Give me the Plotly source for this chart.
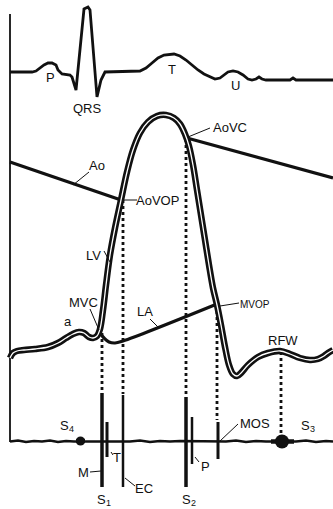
import plotly.graph_objects as go

# ---------------- data ----------------
# ECG trace (time units, amplitude in screen units: larger = lower)
ecg_t = [10, 32, 36, 40, 44, 48, 52, 56, 58, 62, 70, 72, 76, 84, 88, 90, 97, 101, 105,
         140, 146, 152, 158, 164, 170, 174, 180, 186, 192, 198, 204, 210, 215, 220,
         224, 228, 233, 238, 243, 248, 252, 256, 259, 262, 266, 290, 293, 296, 333]
ecg_v = [72, 72, 71, 68, 65, 63, 63, 65, 70, 74, 75, 77, 90, 9, 7, 10, 97, 80, 72,
         71, 68, 63, 58, 55, 54, 54, 56, 60, 65, 70, 74, 77, 79, 78,
         75, 72, 71, 72, 75, 79, 80, 79, 77, 79, 80, 80, 78, 80, 80]

# Aortic pressure (diastolic decline, then post-closure decline)
ao1_t = [10, 121]
ao1_v = [162, 200]
ao2_t = [187, 333]
ao2_v = [138, 178]

# Left ventricular pressure
lv_t = [10, 13, 17, 24, 35, 48, 58, 66, 73, 79, 84, 89, 93, 97, 100, 103, 106, 110,
        115, 121, 127, 133, 140, 148, 157, 166, 174, 180, 185, 189, 193, 197, 201,
        205, 209, 213, 217, 221, 225, 229, 233, 237, 241, 248, 258, 268, 280, 290,
        300, 310, 318, 324, 328, 333]
lv_v = [358, 353, 351, 350, 349, 347, 343, 338, 334, 332, 333, 337, 338, 336, 329,
        310, 285, 255, 228, 200, 172, 150, 133, 122, 116, 115, 118, 124, 134, 146,
        165, 190, 215, 240, 265, 288, 305, 325, 347, 365, 374, 376, 373, 365, 357,
        353, 351, 354, 358, 360, 359, 356, 353, 350]

# Left atrial pressure during ventricular systole
la_t = [100, 104, 109, 115, 123, 217]
la_v = [333, 338, 342, 343, 341, 304]

# Event timing (valve events projected to the heart sounds)
event_t = [102, 123, 186, 217, 281]
event_top = [333, 200, 139, 305, 352]
event_bottom = [392, 394, 396, 420, 433]

# Phonocardiogram baseline
phono_t = [10, 18, 26, 34, 42, 50, 58, 66, 74, 90, 98, 130, 140, 150, 160, 170, 180,
           200, 210, 226, 236, 246, 256, 266, 296, 306, 316, 326, 333]
phono_v = [441.5, 440.5, 442, 441, 441.5, 440.5, 442, 441, 441.5, 441.5, 441, 441.5,
           440.5, 442, 441, 441.5, 441, 441.5, 441, 441.5, 440.5, 442, 441, 441.5,
           441.5, 440.5, 442, 441, 441.5]

# Heart sound components: position, top, bottom, stroke
sound_t = [102, 107, 123, 186, 192, 218]
sound_top = [393, 422, 395, 397, 417, 422]
sound_bottom = [487, 457, 487, 487, 464, 459]
sound_w = [3.5, 3, 2.5, 3.5, 2.5, 3]

# Low-frequency sounds (S4, S3): centre, span of the burst
low_t = [80.5, 282]
low_v = [441, 441.5]
low_span = [(76, 85), (271, 294)]
low_size = [9, 14]

fig = go.Figure()

BLACK = "#111111"
FONT = "Liberation Sans, Arial"

# Axis line (left border)
fig.add_trace(go.Scatter(x=[10, 10], y=[14, 442], mode="lines",
                         line=dict(color=BLACK, width=1.8), hoverinfo="skip"))

# ECG
fig.add_trace(go.Scatter(x=ecg_t, y=ecg_v, mode="lines",
                         line=dict(color=BLACK, width=2.8), hoverinfo="skip"))

# Dotted event lines
for t, a, b in zip(event_t, event_top, event_bottom):
    fig.add_trace(go.Scatter(x=[t, t], y=[a, b], mode="lines",
                             line=dict(color=BLACK, width=2.8, dash="dot"),
                             hoverinfo="skip"))

# Aorta
fig.add_trace(go.Scatter(x=ao1_t, y=ao1_v, mode="lines",
                         line=dict(color=BLACK, width=3.2), hoverinfo="skip"))
fig.add_trace(go.Scatter(x=ao2_t, y=ao2_v, mode="lines",
                         line=dict(color=BLACK, width=3.2), hoverinfo="skip"))

# Left atrium
fig.add_trace(go.Scatter(x=la_t, y=la_v, mode="lines", line_shape="spline",
                         line=dict(color=BLACK, width=3.2), hoverinfo="skip"))

# Left ventricle (outlined double stroke)
fig.add_trace(go.Scatter(x=lv_t, y=lv_v, mode="lines", line_shape="spline",
                         line=dict(color=BLACK, width=6.5), hoverinfo="skip"))
fig.add_trace(go.Scatter(x=lv_t, y=lv_v, mode="lines", line_shape="spline",
                         line=dict(color="white", width=1.3), hoverinfo="skip"))

# Phonocardiogram
fig.add_trace(go.Scatter(x=phono_t, y=phono_v, mode="lines",
                         line=dict(color=BLACK, width=2.6), hoverinfo="skip"))
for t, a, b, w in zip(sound_t, sound_top, sound_bottom, sound_w):
    fig.add_trace(go.Scatter(x=[t, t], y=[a, b], mode="lines",
                             line=dict(color=BLACK, width=w), hoverinfo="skip"))
for (x0, x1), v in zip(low_span, low_v):
    fig.add_trace(go.Scatter(x=[x0, x1], y=[v, v], mode="lines",
                             line=dict(color=BLACK, width=4.5), hoverinfo="skip"))
fig.add_trace(go.Scatter(x=low_t, y=low_v, mode="markers", opacity=1,
                         marker=dict(color=BLACK, size=low_size, symbol="circle",
                                     opacity=1, line=dict(width=0)),
                         hoverinfo="skip"))

# Labels: text, x, y, size
labels = [
    ("P", 50, 77, 13), ("QRS", 87, 108, 13), ("T", 172, 69, 13), ("U", 235, 85, 13),
    ("Ao", 97, 165, 13), ("AoVOP", 157, 200, 13), ("AoVC", 230, 127, 13),
    ("LV", 93, 255, 13), ("MVC", 83, 302, 13), ("a", 68, 321, 13),
    ("LA", 145, 311, 13), ("MVOP", 255, 304, 10), ("RFW", 283, 340, 13),
    ("T", 117, 457, 13), ("M", 83, 472, 13), ("EC", 144, 488, 13),
    ("P", 205, 466, 13), ("MOS", 255, 423, 13),
]
for txt, x, y, s in labels:
    fig.add_annotation(x=x, y=y, text=txt, showarrow=False,
                       font=dict(family=FONT, size=s, color=BLACK),
                       xanchor="center", yanchor="middle")

# Heart sound names with subscripts: letter, index, x, y
sound_names = [("S", "4", 64, 425), ("S", "3", 305, 425),
               ("S", "1", 101, 499), ("S", "2", 186, 499)]
for letter, idx, x, y in sound_names:
    fig.add_annotation(x=x, y=y, text=letter, showarrow=False,
                       font=dict(family=FONT, size=13, color=BLACK),
                       xanchor="center", yanchor="middle")
    fig.add_annotation(x=x + 7, y=y + 3.5, text=idx, showarrow=False,
                       font=dict(family=FONT, size=9, color=BLACK),
                       xanchor="center", yanchor="middle")

# Leader lines
leaders = [
    (73, 185, 89, 172), (124, 200, 137, 200), (188, 137, 210, 128),
    (104, 251, 110, 262), (90, 309, 99, 330), (150, 319, 158, 327),
    (220, 306, 239, 303), (111, 452, 113, 455), (90, 472, 101, 471),
    (125, 478, 135, 486), (195, 457, 199, 462), (220, 441, 238, 424),
]
for x0, y0, x1, y1 in leaders:
    fig.add_shape(type="line", x0=x0, y0=y0, x1=x1, y1=y1,
                  line=dict(color=BLACK, width=1))

fig.update_layout(
    width=333, height=509, autosize=False,
    margin=dict(l=0, r=0, t=0, b=0),
    paper_bgcolor="white", plot_bgcolor="white",
    showlegend=False,
    xaxis=dict(range=[0, 333], visible=False, fixedrange=True),
    yaxis=dict(range=[509, 0], visible=False, fixedrange=True),
)

fig.write_html("out.html", config=dict(displayModeBar=False))
